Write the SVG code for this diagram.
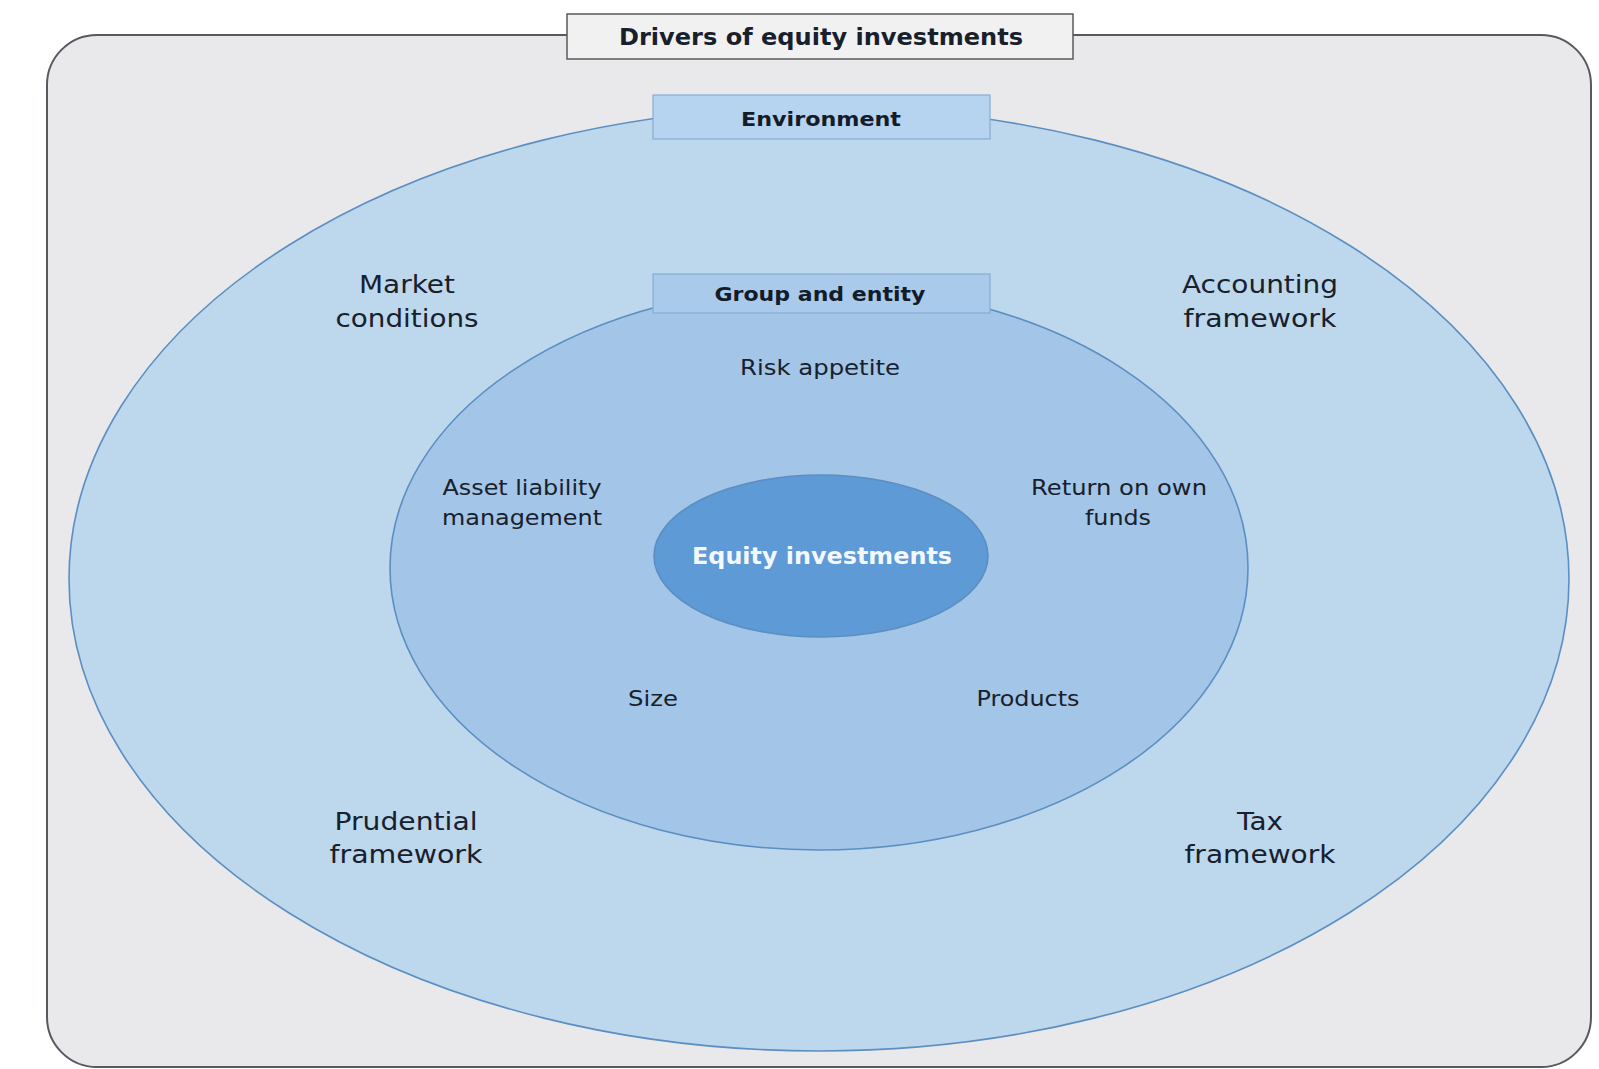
<svg xmlns="http://www.w3.org/2000/svg" width="1599" height="1069" viewBox="0 0 1599 1069">
  <style>
    .frame { fill: #e9e9eb; stroke: #555a60; stroke-width: 2; }
    .title-box { fill: #f1f1f2; stroke: #5a5a5a; stroke-width: 1.5; }
    .ring { stroke: #5b8fc2; stroke-width: 1.6; }
    .tab { stroke: #86acd2; stroke-width: 1.2; }
    text { font-family: "DejaVu Sans", Verdana, sans-serif; text-anchor: middle; fill: #18202c; }
    .bold { font-weight: bold; }
    .outer-label { font-size: 25px; }
    .inner-label { font-size: 22px; }
    .tab-label { font-size: 20px; font-weight: bold; fill: #131c28; }
    .core-label { font-size: 23px; font-weight: bold; fill: #f4f8fc; }
  </style>

  <rect width="1599" height="1069" fill="#ffffff"/>

  <!-- outer frame -->
  <g id="frame">
    <rect class="frame" x="47" y="35" width="1544" height="1032" rx="50" ry="50"/>
  </g>

  <!-- heading -->
  <g id="title">
    <rect class="title-box" x="567" y="14" width="506" height="45"/>
    <text class="bold" x="821" y="45" font-size="23" fill="#111" textLength="404" lengthAdjust="spacingAndGlyphs">Drivers of equity investments</text>
  </g>

  <!-- environment ring -->
  <g id="environment">
    <ellipse class="ring" cx="819" cy="579" rx="750" ry="472" fill="#bdd7ed"/>
    <rect class="tab" x="653" y="95" width="337" height="44" fill="#b6d3ef"/>
    <text class="tab-label" x="821" y="126" textLength="160" lengthAdjust="spacingAndGlyphs">Environment</text>
  </g>

  <g id="market-conditions">
    <text class="outer-label" x="407" y="293" textLength="96" lengthAdjust="spacingAndGlyphs">Market</text>
    <text class="outer-label" x="407" y="327" textLength="143" lengthAdjust="spacingAndGlyphs">conditions</text>
  </g>
  <g id="accounting-framework">
    <text class="outer-label" x="1260" y="293" textLength="156" lengthAdjust="spacingAndGlyphs">Accounting</text>
    <text class="outer-label" x="1260" y="327" textLength="153" lengthAdjust="spacingAndGlyphs">framework</text>
  </g>
  <g id="prudential-framework">
    <text class="outer-label" x="406" y="830" textLength="143" lengthAdjust="spacingAndGlyphs">Prudential</text>
    <text class="outer-label" x="406" y="863" textLength="153" lengthAdjust="spacingAndGlyphs">framework</text>
  </g>
  <g id="tax-framework">
    <text class="outer-label" x="1260" y="830" textLength="46" lengthAdjust="spacingAndGlyphs">Tax</text>
    <text class="outer-label" x="1260" y="863" textLength="151" lengthAdjust="spacingAndGlyphs">framework</text>
  </g>

  <!-- group and entity ring -->
  <g id="group-and-entity">
    <ellipse class="ring" cx="819" cy="568" rx="429" ry="282" fill="#a3c5e7"/>
    <rect class="tab" x="653" y="274" width="337" height="39" fill="#a9caeb"/>
    <text class="tab-label" x="820" y="301" textLength="211" lengthAdjust="spacingAndGlyphs">Group and entity</text>
  </g>

  <g id="risk-appetite">
    <text class="inner-label" x="820" y="375" textLength="160" lengthAdjust="spacingAndGlyphs">Risk appetite</text>
  </g>
  <g id="asset-liability-management">
    <text class="inner-label" x="522" y="495" textLength="159" lengthAdjust="spacingAndGlyphs">Asset liability</text>
    <text class="inner-label" x="522" y="525" textLength="160" lengthAdjust="spacingAndGlyphs">management</text>
  </g>
  <g id="return-on-own-funds">
    <text class="inner-label" x="1119" y="495" textLength="176" lengthAdjust="spacingAndGlyphs">Return on own</text>
    <text class="inner-label" x="1118" y="525" textLength="66" lengthAdjust="spacingAndGlyphs">funds</text>
  </g>
  <g id="size">
    <text class="inner-label" x="653" y="706" textLength="50" lengthAdjust="spacingAndGlyphs">Size</text>
  </g>
  <g id="products">
    <text class="inner-label" x="1028" y="706" textLength="103" lengthAdjust="spacingAndGlyphs">Products</text>
  </g>

  <!-- core -->
  <g id="equity-investments">
    <ellipse class="ring" cx="821" cy="556" rx="167" ry="81" fill="#5e9ad6"/>
    <text class="core-label" x="822" y="564" textLength="260" lengthAdjust="spacingAndGlyphs">Equity investments</text>
  </g>

  <!-- no connectors in this figure -->
  <g id="connectors"/>
</svg>
